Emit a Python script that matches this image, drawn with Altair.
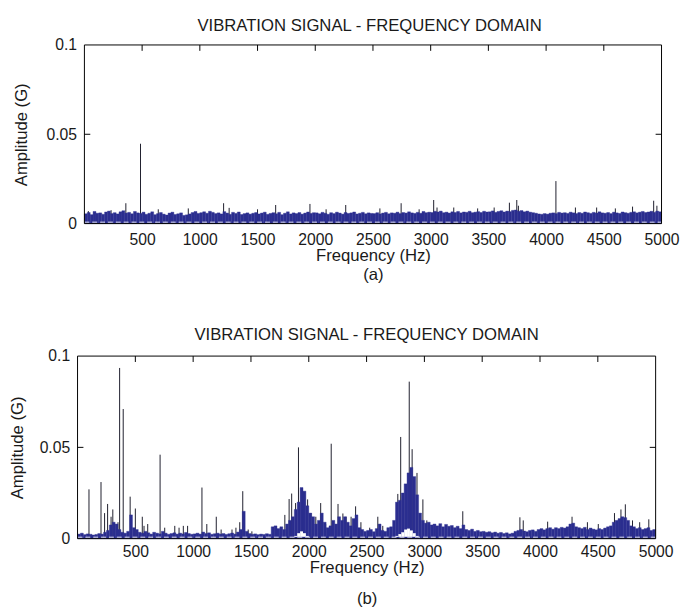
import altair as alt
import pandas as pd

FONT = "Liberation Sans"
BAND_COLOR = "#2b2e8f"
SPIKE_COLOR = "#1e1e2c"
TEXT_COLOR = "#1a1a1a"

TITLE_TEXT = "VIBRATION SIGNAL - FREQUENCY DOMAIN"
X_TITLE = "Frequency (Hz)"
Y_TITLE = "Amplitude (G)"

x_label_values = [500, 1000, 1500, 2000, 2500, 3000, 3500, 4000, 4500, 5000]
top_tick_values = [500, 1000, 1500, 2000, 2500, 3000, 3500, 4000, 4500]
y_label_values = [0, 0.05, 0.1]
side_tick_values = [0.05]

BIN_HZ = 25  # width of one band column

# ---- panel (a): noise band top, mG, one value per 25 Hz from 0 Hz ----
band_a_mg = [
    5.5, 6.2, 5.0, 6.8, 5.8, 6.0, 5.2, 6.5, 7.0, 5.6, 6.1, 5.4, 6.6, 7.2, 5.9, 6.3, 5.5, 6.8, 6.0, 5.7,
    6.4, 5.2, 5.8, 6.6, 5.0, 5.6, 6.2, 5.3, 4.8, 5.9, 6.4, 5.1, 5.5, 6.0, 4.6, 4.9, 5.4, 6.2, 6.8, 5.7,
    6.1, 6.6, 5.8, 6.9, 6.3, 5.6, 6.0, 5.4, 6.7, 5.9, 5.2, 6.3, 5.7, 6.5, 5.1, 5.6, 6.0, 5.3, 5.8, 6.2,
    5.4, 5.9, 6.4, 5.2, 5.7, 6.1, 5.5, 6.3, 5.0, 5.8, 6.6, 5.4, 6.0, 5.6, 6.2, 5.3, 5.9, 6.5, 5.7, 6.1,
    6.0, 5.5, 6.3, 5.8, 5.2, 6.1, 5.6, 6.4, 5.9, 5.3, 6.2, 5.7, 6.0, 6.5, 5.4, 5.8, 6.3, 5.5, 6.0, 5.7,
    5.6, 6.1, 5.4, 5.9, 6.3, 5.5, 6.0, 5.8, 6.4, 5.6, 6.2, 5.9, 6.6, 6.0, 5.7, 6.3, 5.8, 6.8, 6.1, 6.4,
    6.2, 6.9, 6.5, 7.0, 6.1, 6.4, 5.9, 6.6, 6.2, 6.8, 6.0, 6.5, 6.3, 6.9, 6.1, 6.4, 6.7, 6.2, 6.9, 6.5,
    6.6, 7.1, 6.3, 6.8, 7.2, 6.5, 7.0, 6.7, 7.4, 7.6, 6.9, 7.3, 6.6, 7.0, 6.4, 6.1, 5.8, 5.4, 5.2, 5.6,
    5.3, 5.8, 6.0, 5.6, 6.3, 5.9, 6.1, 5.7, 6.4, 6.0, 5.6, 6.2, 5.8, 6.5, 6.1, 5.7, 6.3, 5.9, 6.6, 6.0,
    5.8, 6.2, 5.6, 6.4, 6.0, 5.7, 6.5, 6.1, 5.8, 6.3, 6.6, 6.0, 6.4, 6.8, 6.2, 6.5, 6.9, 6.3, 7.0, 6.6,
]
spike_a_hz = [34, 231, 359, 486, 640, 900, 1206, 1254, 1500, 1657, 1954, 2094, 2264, 2560, 2744,
              2900, 3026, 3055, 3200, 3407, 3550, 3682, 3746, 3760, 4085, 4254, 4438, 4600, 4749,
              4932, 4960]
spike_a_mg = [7.0, 7.5, 11.4, 44.7, 8.0, 8.5, 11.4, 8.8, 8.0, 10.4, 11.0, 8.0, 10.4, 8.5, 11.4,
              8.0, 13.2, 9.0, 9.0, 8.5, 9.0, 11.7, 13.2, 10.0, 23.8, 9.0, 9.0, 8.5, 9.5,
              12.8, 10.0]

# ---- panel (b) ----
band_b_mg = [
    2.5, 3.0, 2.2, 2.6, 2.4, 2.0, 2.3, 2.8, 2.5, 3.5, 4.5, 7.5, 9.0, 8.0, 5.0, 3.5, 3.0, 4.0, 13.0, 6.0,
    5.0, 3.5, 3.0, 4.0, 3.2, 2.5, 3.5, 3.0, 2.6, 4.0, 3.0, 2.4, 2.8, 3.2, 2.5, 3.0, 2.6, 3.4, 2.8, 2.4,
    2.6, 3.0, 2.5, 3.6, 2.8, 3.2, 2.4, 2.7, 3.0, 2.5, 2.8, 2.3, 2.7, 3.1, 2.5, 3.6, 5.0, 15.0, 4.0, 2.8,
    2.4, 2.6, 2.2, 2.5, 2.3, 2.7, 2.4, 6.5, 7.0, 5.5, 6.5, 5.0, 8.0, 10.0, 12.0, 16.0, 20.0, 28.0, 26.0, 18.0,
    14.0, 12.0, 8.0, 10.0, 14.0, 9.0, 6.0, 7.0, 10.0, 8.0, 12.0, 10.0, 12.0, 9.0, 7.0, 11.0, 13.0, 6.0, 5.0, 4.0,
    4.5, 5.0, 3.8, 5.5, 8.0, 4.5, 4.0, 6.0, 6.5, 10.0, 20.0, 21.0, 25.0, 30.0, 36.0, 39.0, 34.0, 24.0, 14.0, 10.0,
    8.5, 9.0, 7.5, 8.0, 7.0, 8.2, 6.5, 7.8, 6.8, 7.2, 6.0, 6.8, 5.5, 7.5, 5.0, 4.5, 5.2, 4.0, 4.5, 3.8,
    4.0, 3.5, 3.8, 3.2, 3.6, 3.0, 3.4, 2.8, 3.2, 2.6, 3.0, 4.0, 4.5, 5.0, 4.2, 3.8, 4.5, 4.8, 4.0, 5.0,
    5.5, 4.8, 5.5, 6.0, 5.2, 6.0, 5.5, 6.2, 5.8, 6.5, 8.0, 8.5, 6.5, 6.0, 5.5, 6.2, 5.0, 5.8, 5.2, 4.8,
    5.5, 5.0, 5.8, 6.5, 7.0, 9.0, 10.0, 11.0, 12.0, 11.5, 10.0, 7.0, 6.5, 5.5, 6.0, 5.0, 5.5, 6.0, 4.5, 5.0,
]
spike_b_hz = [99, 203, 234, 260, 290, 305, 350, 364, 395, 455, 500, 560, 575, 607, 714, 754, 841,
              878, 915, 952, 1076, 1118, 1200, 1242, 1336, 1370, 1403, 1429, 1476, 1508,
              1793, 1830, 1852, 1886, 1911, 1990, 2019, 2061, 2103, 2146, 2194, 2253, 2295,
              2323, 2366, 2405, 2451, 2527, 2597, 2640, 2770, 2795, 2869, 2894, 2936, 2987,
              3021, 3332, 3826, 3855, 4066, 4277, 4410, 4504, 4644, 4700, 4738, 4800, 4862, 4941]
spike_b_mg = [27.0, 31.0, 14.0, 19.0, 12.0, 16.0, 9.0, 93.5, 71.0, 23.0, 16.5, 12.0, 7.0, 8.0, 46.0,
              6.0, 7.0, 6.0, 7.0, 7.0, 28.0, 8.0, 12.0, 5.0, 5.0, 6.0, 9.0, 26.0, 5.0, 4.0,
              13.0, 21.7, 24.7, 19.5, 50.0, 21.5, 14.0, 12.0, 19.5, 8.0, 52.0, 19.0, 13.8,
              12.0, 12.0, 17.7, 9.0, 6.0, 12.0, 7.0, 24.5, 55.7, 86.0, 49.0, 36.0, 21.5,
              10.0, 15.0, 11.7, 10.0, 9.3, 12.0, 9.0, 8.0, 14.0, 16.0, 18.8, 10.0, 9.0, 10.6]
# empty (white) pockets under the band of panel (b)
gap_b_hz = [1875, 1900, 1925, 1950, 1975, 2750, 2775, 2800, 2825, 2850, 2875, 2900, 2925]
gap_b_top_mg = [1.5, 3.0, 4.0, 3.0, 1.5, 1.5, 2.5, 3.5, 5.0, 5.5, 4.5, 3.0, 1.5]
GAP_FLOOR_MG = 1.0
DASH_LEVEL_MG = 0.8


def panel(band_mg, sp_hz, sp_mg, width, height, caption, line_height, y_title_pad,
          label_pad, title_offset, shift=0, gap_hz=None, gap_top=None):
    """shift: extra left margin (px) inside the panel, the plot box starts after it."""
    xs = alt.Scale(domain=[0, 5000], nice=False, zero=False, range=[shift, width])
    ys = alt.Scale(domain=[0, 0.1], nice=False, zero=False)

    x_axis = alt.Axis(values=x_label_values, format="d", ticks=False, domain=False, grid=False,
                      labelFont=FONT, labelFontSize=16, labelColor=TEXT_COLOR,
                      labelPadding=label_pad, labelFlush=False,
                      title=[X_TITLE, caption], titleFont=FONT, titleFontSize=17,
                      titleFontWeight="normal", titleColor=TEXT_COLOR, titlePadding=1,
                      titleLineHeight=line_height)
    y_axis = alt.Axis(values=y_label_values, format="~g", ticks=False, domain=False, grid=False,
                      labelFont=FONT, labelFontSize=16, labelColor=TEXT_COLOR, labelPadding=8,
                      labelFlush=False, offset=-shift,
                      title=Y_TITLE, titleFont=FONT, titleFontSize=17, titleFontWeight="normal",
                      titleColor=TEXT_COLOR, titlePadding=y_title_pad)

    def X(field=None, datum=None):
        if datum is not None:
            return alt.X(datum=datum, type="quantitative", scale=xs, axis=x_axis)
        return alt.X(field, type="quantitative", scale=xs, axis=x_axis)

    def Y(field=None, datum=None):
        if datum is not None:
            return alt.Y(datum=datum, type="quantitative", scale=ys, axis=y_axis)
        return alt.Y(field, type="quantitative", scale=ys, axis=y_axis)

    band = pd.DataFrame({
        "f0": [i * BIN_HZ for i in range(len(band_mg))],
        "f1": [(i + 1) * BIN_HZ for i in range(len(band_mg))],
        "lo": [0.0] * len(band_mg),
        "hi": [v / 1000 for v in band_mg],
    })
    spikes = pd.DataFrame({"f": sp_hz, "amp": [v / 1000 for v in sp_mg]})

    spike_layer = alt.Chart(spikes).mark_rule(color=SPIKE_COLOR, strokeWidth=1).encode(
        x=X("f"), y=Y("amp"), y2=alt.datum(0),
    )
    band_layer = alt.Chart(band).mark_rect(color=BAND_COLOR, stroke=BAND_COLOR,
                                           strokeWidth=0.4).encode(
        x=X("f0"), x2="f1:Q", y=Y("lo"), y2="hi:Q",
    )
    layers = [spike_layer, band_layer]

    if gap_hz is not None:
        gaps = pd.DataFrame({
            "f0": gap_hz,
            "f1": [g + BIN_HZ for g in gap_hz],
            "lo": [GAP_FLOOR_MG / 1000] * len(gap_hz),
            "hi": [v / 1000 for v in gap_top],
        })
        layers.append(alt.Chart(gaps).mark_rect(color="white").encode(
            x=X("f0"), x2="f1:Q", y=Y("lo"), y2="hi:Q",
        ))

    base = pd.DataFrame({"a": [0]})
    layers.append(alt.Chart(base).mark_rule(color="white", strokeWidth=1, strokeDash=[5, 3],
                                            opacity=0.85).encode(
        x=X(datum=0), x2=alt.datum(5000), y=Y(datum=DASH_LEVEL_MG / 1000)))
    # box around the plot
    for x0, x1, y0, y1 in [(0, 5000, 0, 0), (0, 5000, 0.1, 0.1), (0, 0, 0, 0.1), (5000, 5000, 0, 0.1)]:
        if y0 == y1:
            enc = dict(x=X(datum=x0), x2=alt.datum(x1), y=Y(datum=y0))
        else:
            enc = dict(x=X(datum=x0), y=Y(datum=y0), y2=alt.datum(y1))
        layers.append(alt.Chart(base).mark_rule(color="black", strokeWidth=1).encode(**enc))

    top_ticks = pd.DataFrame({"t": top_tick_values})
    tick_len_y = 0.1 * 6 / height
    tick_len_x = 5000 * 6 / (width - shift)
    layers.append(alt.Chart(top_ticks).mark_rule(color="black", strokeWidth=1).encode(
        x=X("t"), y=Y(datum=0.1), y2=alt.datum(0.1 - tick_len_y)))
    side = pd.DataFrame({"v": side_tick_values})
    layers.append(alt.Chart(side).mark_rule(color="black", strokeWidth=1).encode(
        y=Y("v"), x=X(datum=0), x2=alt.datum(tick_len_x)))
    layers.append(alt.Chart(side).mark_rule(color="black", strokeWidth=1).encode(
        y=Y("v"), x=X(datum=5000), x2=alt.datum(5000 - tick_len_x)))

    return alt.layer(*layers).properties(
        width=width, height=height,
        title=alt.TitleParams(TITLE_TEXT, font=FONT, fontSize=17, fontWeight="normal",
                              color=TEXT_COLOR, offset=title_offset, anchor="middle"),
    )


NB = "\u00a0" * 5
chart_a = panel(band_a_mg, spike_a_hz, spike_a_mg, 595, 182, "(a)" + NB, 19, 16, 8, 2,
                shift=7)
chart_b = panel(band_b_mg, spike_b_hz, spike_b_mg, 589, 186, "(b)" + NB, 31, 13, 5, 4,
                gap_hz=gap_b_hz, gap_top=gap_b_top_mg)

chart = alt.concat(chart_a, chart_b, columns=1, spacing=45).properties(
    padding={"left": 8, "top": 12, "right": 10, "bottom": 4},
    background="white",
).configure_view(stroke="transparent", strokeWidth=0)

chart.save("out.html", embed_options={"renderer": "svg", "actions": False})
